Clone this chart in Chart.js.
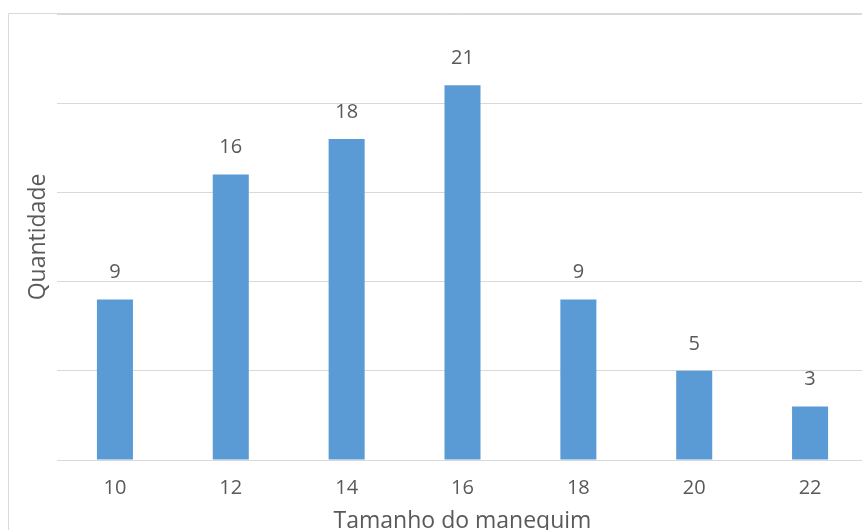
<!DOCTYPE html>
<html>
<head>
<meta charset="utf-8">
<script src="https://cdn.jsdelivr.net/npm/chart.js@4"></script>
<style>
html,body{margin:0;padding:0;background:#fff;overflow:hidden;width:862px;height:530px;}
#wrap{position:absolute;left:0;top:0;width:880px;height:545px;}
</style>
</head>
<body>
<div id="wrap"><canvas id="c" width="880" height="545"></canvas></div>
<script>
const categories = ['10','12','14','16','18','20','22'];
const quantities = [9,16,18,21,9,5,3];
const xTitle = 'Tamanho do manequim';
const yTitle = 'Quantidade';

const FONT = '"Open Sans", sans-serif';
const TEXT = '#595959';
const GRID = '#D9D9D9';

const frame = {
  id: 'frame',
  beforeDraw(chart) {
    const ctx = chart.ctx;
    ctx.save();
    ctx.strokeStyle = GRID;
    ctx.lineWidth = 1;
    ctx.beginPath();
    ctx.moveTo(8.5, chart.height);
    ctx.lineTo(8.5, 13.5);
    ctx.lineTo(chart.width, 13.5);
    ctx.stroke();
    ctx.restore();
  }
};

const labels = {
  id: 'labels',
  afterDatasetsDraw(chart) {
    const ctx = chart.ctx;
    const meta = chart.getDatasetMeta(0);
    ctx.save();
    ctx.fillStyle = TEXT;
    ctx.font = '20px ' + FONT;
    ctx.textAlign = 'center';
    ctx.textBaseline = 'middle';
    meta.data.forEach((bar, i) => {
      ctx.fillText(String(quantities[i]), bar.x, bar.y - 27);
    });
    ctx.restore();
  }
};

new Chart(document.getElementById('c'), {
  type: 'bar',
  data: {
    labels: categories,
    datasets: [{
      data: quantities,
      backgroundColor: '#5B9BD5',
      borderWidth: 0,
      barPercentage: 0.311,
      categoryPercentage: 1
    }]
  },
  options: {
    responsive: false,
    animation: false,
    layout: { padding: { top: 14, right: 12, left: 0, bottom: 0 } },
    plugins: { legend: { display: false }, tooltip: { enabled: false } },
    scales: {
      x: {
        grid: { display: false, drawTicks: false },
        border: { display: true, color: GRID, width: 1 },
        ticks: { color: TEXT, font: { family: FONT, size: 20 }, padding: 16 },
        title: { display: true, text: xTitle, color: TEXT, font: { family: FONT, size: 23 }, padding: { top: 0, bottom: 10 } },
        afterFit(s) { s.height = 85; }
      },
      y: {
        min: 0, max: 25,
        ticks: { display: false, stepSize: 5 },
        grid: { color: GRID, lineWidth: 1, drawTicks: false },
        border: { display: false },
        title: { display: true, text: yTitle, color: TEXT, font: { family: FONT, size: 23 }, padding: { top: 25, bottom: 0 } },
        afterFit(s) { s.width = 57; }
      }
    }
  },
  plugins: [frame, labels]
});
</script>
</body>
</html>
